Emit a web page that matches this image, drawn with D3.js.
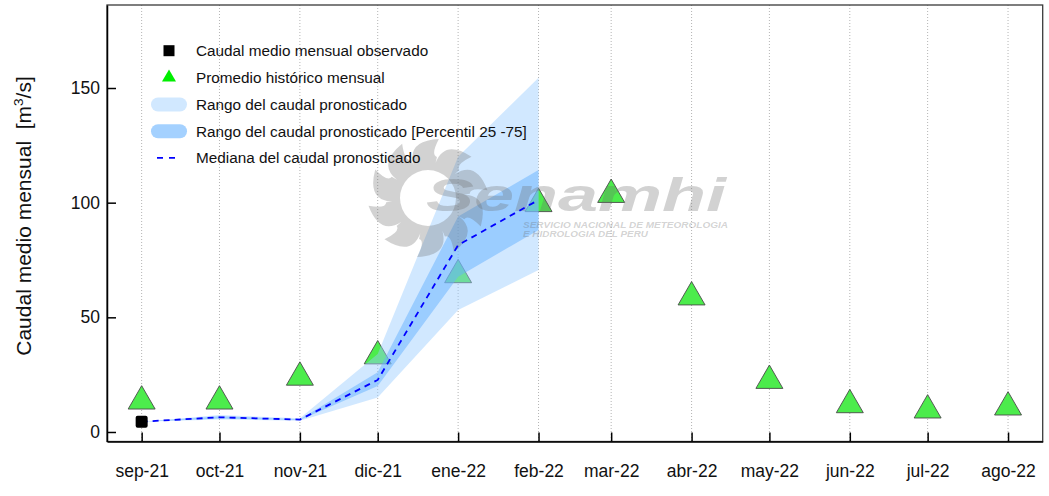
<!DOCTYPE html>
<html><head><meta charset="utf-8">
<script src="https://cdn.jsdelivr.net/npm/d3@7"></script>
<style>
body{margin:0;background:#fff}
svg{display:block;font-family:"Liberation Sans",Arial,Helvetica,sans-serif}
</style>
</head><body>
<svg id="chart" width="1049" height="496"></svg>
<script>
// ---------------- data ----------------
const months = ["2021-09-01","2021-10-01","2021-11-01","2021-12-01","2022-01-01","2022-02-01",
                "2022-03-01","2022-04-01","2022-05-01","2022-06-01","2022-07-01","2022-08-01"];
const monthLabels = ["sep-21","oct-21","nov-21","dic-21","ene-22","feb-22",
                     "mar-22","abr-22","may-22","jun-22","jul-22","ago-22"];
const historicalMean = [13.4,13.4,23.8,33.1,68.5,99.5,103.5,58.8,22.4,11.8,9.5,10.8];
const observedMonths = ["2021-09-01"];
const observedValues = [4.5];
const forecastMonths = ["2021-09-01","2021-10-01","2021-11-01","2021-12-01","2022-01-01","2022-02-01"];
const forecastMedian = [4.5,6.4,5.4,22.7,81.5,101.2];
const forecastMin    = [4.5,5.4,4.9,15.0,53.2,70.6];
const forecastMax    = [4.5,7.4,6.0,34.0,120.0,154.5];
const forecastP25    = [4.5,5.9,5.2,20.0,67.7,88.1];
const forecastP75    = [4.5,6.9,5.6,26.0,94.0,114.2];
const yTicks = [0,50,100,150];
const legendLabels = ["Caudal medio mensual observado","Promedio histórico mensual",
  "Rango del caudal pronosticado","Rango del caudal pronosticado [Percentil 25 -75]",
  "Mediana del caudal pronosticado"];

// ---------------- setup ----------------
const parse = d3.timeParse("%Y-%m-%d");
const dates = months.map(parse);
const svg = d3.select("#chart");
const L = 107, R = 1042.7, T = 5, B = 441.5;

const t0 = dates[0].getTime(), t1 = dates[dates.length-1].getTime(), span = t1 - t0;
const x = d3.scaleTime()
  .domain([new Date(t0 - 0.04*span), new Date(t1 + 0.04*span)])
  .range([L, R]);
const y = d3.scaleLinear().domain([-4.15, 186.2]).range([B, T]);

// grid
svg.append("g").selectAll("line").data(dates).join("line")
  .attr("x1", d => x(d)).attr("x2", d => x(d))
  .attr("y1", T).attr("y2", B)
  .attr("stroke", "#b4b4b4").attr("stroke-width", 1)
  .attr("stroke-dasharray", "1,2");

// historical triangles
const tri = d3.symbol().type(d3.symbolTriangle).size(315);
svg.append("g").selectAll("path").data(historicalMean).join("path")
  .attr("d", tri)
  .attr("transform", (d,i) => `translate(${x(dates[i])},${y(d)})`)
  .attr("fill", "#4cec4c").attr("stroke", "#4a4a4a").attr("stroke-width", 0.9);

// bands
const fd = forecastMonths.map(parse);
const areaOuter = d3.area().x((d,i) => x(fd[i])).y0((d,i) => y(forecastMin[i])).y1((d,i) => y(forecastMax[i]));
const areaInner = d3.area().x((d,i) => x(fd[i])).y0((d,i) => y(forecastP25[i])).y1((d,i) => y(forecastP75[i]));
svg.append("path").datum(forecastMedian).attr("d", areaOuter)
  .attr("fill", "rgb(153,204,255)").attr("fill-opacity", 0.45);
svg.append("path").datum(forecastMedian).attr("d", areaInner)
  .attr("fill", "rgb(102,178,255)").attr("fill-opacity", 0.5);

// watermark (Senamhi logo)
const wm = svg.append("g").attr("fill", "#6a6a6a").attr("fill-opacity", 0.3);
(function(){
  const cx = 428, cy = 198, rIn = 36, rOut = 60, n = 10;
  const pt = (r,a) => [cx + r*Math.cos(a), cy + r*Math.sin(a)];
  let p = "";
  for (let i = 0; i < n; i++) {
    const a0 = (i/n)*2*Math.PI - 0.1, a1 = ((i+1)/n)*2*Math.PI - 0.1, w = a1 - a0;
    const s = pt(rIn, a0), tip = pt(rOut, a0 + w*0.95), e = pt(rIn + 6, a1);
    const c1 = pt(rOut*1.02, a0 + w*0.1), c2 = pt(rOut*0.72, a0 + w*0.75);
    p += (i === 0 ? "M" : "L") + s.join(",");
    p += "Q" + c1.join(",") + " " + tip.join(",");
    p += "Q" + c2.join(",") + " " + e.join(",");
  }
  p += "Z";
  p += `M${cx+28},${cy}A28,28 0 1,0 ${cx-28},${cy}A28,28 0 1,0 ${cx+28},${cy}Z`;
  wm.append("path").attr("d", p).attr("fill-rule", "evenodd");
})();
wm.append("text").attr("x", 426).attr("y", 211)
  .attr("font-size", 46).attr("font-weight", "bold").attr("font-style", "italic")
  .attr("textLength", 300).attr("lengthAdjust", "spacingAndGlyphs").text("Senamhi");
wm.append("text").attr("x", 523).attr("y", 228)
  .attr("font-size", 8.3).attr("font-weight", "bold").attr("font-style", "italic")
  .attr("textLength", 205).attr("lengthAdjust", "spacingAndGlyphs").text("SERVICIO NACIONAL DE METEOROLOGIA");
wm.append("text").attr("x", 523).attr("y", 237)
  .attr("font-size", 8.3).attr("font-weight", "bold").attr("font-style", "italic")
  .attr("textLength", 125).attr("lengthAdjust", "spacingAndGlyphs").text("E HIDROLOGIA DEL PERU");

// median line
const line = d3.line().x((d,i) => x(fd[i])).y(d => y(d));
svg.append("path").datum(forecastMedian).attr("d", line)
  .attr("fill", "none").attr("stroke", "#0000ff").attr("stroke-width", 1.8)
  .attr("stroke-dasharray", "6,5");

// observed
const od = observedMonths.map(parse);
svg.append("g").selectAll("rect").data(observedValues).join("rect")
  .attr("x", (d,i) => x(od[i]) - 6).attr("y", d => y(d) - 6)
  .attr("width", 12).attr("height", 12).attr("rx", 2).attr("fill", "#000");

// frame
svg.append("rect").attr("x", L).attr("y", T).attr("width", R-L).attr("height", B-T)
  .attr("fill", "none").attr("stroke", "#3a3a3a").attr("stroke-width", 1.3);

// axes
const xAxis = d3.axisBottom(x).tickValues(dates)
  .tickFormat((d,i) => monthLabels[i]).tickSizeInner(-9).tickSizeOuter(0).tickPadding(23);
const gx = svg.append("g").attr("transform", `translate(0,${B})`).call(xAxis);
gx.attr("font-family", null);
gx.select(".domain").attr("stroke", "#000").attr("stroke-width", 1.5);
gx.selectAll(".tick line").attr("stroke", "#000").attr("stroke-width", 1.5);
gx.selectAll("text").attr("font-size", 17.5).attr("fill", "#111");

const yAxis = d3.axisLeft(y).tickValues(yTicks).tickSizeInner(-9).tickSizeOuter(0).tickPadding(7);
const gy = svg.append("g").attr("transform", `translate(${L},0)`).call(yAxis);
gy.attr("font-family", null);
gy.select(".domain").attr("stroke", "#000").attr("stroke-width", 1.5);
gy.selectAll(".tick line").attr("stroke", "#000").attr("stroke-width", 1.5);
gy.selectAll("text").attr("font-size", 17.5).attr("fill", "#111");

// y title
const yt = svg.append("text").attr("transform", "translate(31,216) rotate(-90)")
  .attr("text-anchor", "middle").attr("font-size", 21).attr("fill", "#111")
  .attr("style", "white-space:pre");
yt.append("tspan").text("Caudal medio mensual  [m");
yt.append("tspan").text("3").attr("font-size", 13.5).attr("dy", -8.5);
yt.append("tspan").text("/s]").attr("dy", 8.5);

// legend
const lg = svg.append("g");
const rowY = [50.7, 77.5, 104.5, 131.2, 157.8];
lg.append("rect").attr("x", 163.5).attr("y", rowY[0]-5.5).attr("width", 11).attr("height", 11).attr("fill", "#000");
lg.append("path").attr("d", d3.symbol().type(d3.symbolTriangle).size(85))
  .attr("transform", `translate(169,${rowY[1]})`).attr("fill", "#00ee00");
lg.append("rect").attr("x", 151).attr("y", rowY[2]-7).attr("width", 36).attr("height", 14).attr("rx", 7)
  .attr("fill", "rgb(153,204,255)").attr("fill-opacity", 0.45);
lg.append("rect").attr("x", 151).attr("y", rowY[3]-7).attr("width", 36).attr("height", 14).attr("rx", 7)
  .attr("fill", "rgb(126,190,255)").attr("fill-opacity", 0.7);
lg.append("line").attr("x1", 157).attr("x2", 177).attr("y1", rowY[4]).attr("y2", rowY[4])
  .attr("stroke", "#0000ff").attr("stroke-width", 1.8).attr("stroke-dasharray", "6,6");
lg.selectAll("text").data(legendLabels).join("text")
  .attr("x", 196).attr("y", (d,i) => rowY[i] + 5.3)
  .attr("font-size", 15.3).attr("fill", "#111").text(d => d);
</script>
</body></html>
